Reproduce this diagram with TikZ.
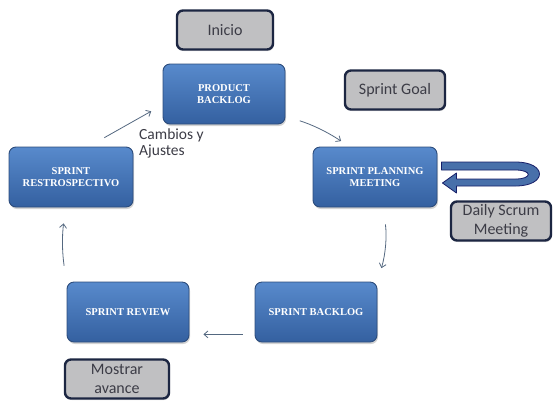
\documentclass[tikz,border=0pt]{standalone}
\usepackage{fontspec}
\setmainfont{Liberation Serif}
\newfontfamily\calibfont{Carlito}
\usetikzlibrary{positioning,calc,shadows,arrows.meta}

\definecolor{bluetop}{RGB}{88,138,204}
\definecolor{bluebot}{RGB}{52,96,160}
\definecolor{blueedge}{RGB}{44,76,124}
\definecolor{notegray}{RGB}{192,192,194}
\definecolor{noteedge}{RGB}{28,38,66}
\definecolor{flowgray}{RGB}{84,104,128}
\definecolor{textgray}{RGB}{60,60,70}

\begin{document}
\begin{tikzpicture}[x=1pt, y=-1pt,
        phase/.style={draw=blueedge, line width=0.9pt, rounded corners=7pt,
            top color=bluetop, bottom color=bluebot,
            minimum width=122pt, minimum height=60pt, align=center,
            text=white, font=\fontsize{10.5}{11.5}\selectfont\bfseries,
            drop shadow={opacity=0.35, shadow xshift=1pt, shadow yshift=-2pt}},
        note/.style={draw=noteedge, line width=2.4pt, fill=notegray, rounded corners=6pt,
            minimum width=100pt, minimum height=39pt, align=center, inner sep=2pt,
            text=textgray, font=\calibfont\fontsize{16}{19}\selectfont,
            drop shadow={opacity=0.25, shadow xshift=1pt, shadow yshift=-1.5pt}},
        flow/.style={->, draw=flowgray, line width=0.8pt},
        >={Straight Barb[length=4pt,width=7pt]}
    ]
    \useasboundingbox (0,0) rectangle (553,400);

    % Scrum cycle
    \node [phase] (pb) at (224,94) {PRODUCT\\BACKLOG};
    \node [phase, minimum width=124pt] (spm) at (375,177) {SPRINT PLANNING\\MEETING};
    \node [phase] (sb) at (316,312) {SPRINT BACKLOG};
    \node [phase] (sr) at (128,312) {SPRINT REVIEW};
    \node [phase, minimum width=124pt] (retro) at (71,177) {SPRINT\\RESTROSPECTIVO};

    % Notes
    \node [note, minimum width=96pt] (inicio) at (225,30) {Inicio};
    \node [note] (goal) at (395,90) {Sprint Goal};
    \node [note, font=\calibfont\fontsize{16}{19}\selectfont] (daily) at (501,221) {Daily Scrum\\Meeting};
    \node [note, font=\calibfont\fontsize{16}{19}\selectfont, minimum width=104pt] (avance) at (117,379) {Mostrar\\avance};
    \node [anchor=north west, align=left, inner sep=0pt, text=textgray,
        font=\calibfont\fontsize{15.5}{16}\selectfont] (cambios) at (139,129) {Cambios y\\Ajustes};

    % Connections
    \draw [flow, shorten <=15pt, shorten >=10pt] (pb.-20) to[bend left=8] (spm.130);
    \draw [flow, shorten <=17pt, shorten >=14pt] (spm.-75) to[bend left=12] (sb.north east);
    \draw [flow, shorten <=12pt, shorten >=14pt] (sb.-160) -- (sr.-20);
    \draw [flow, shorten <=16pt, shorten >=16pt] (sr.north west) to[bend left=8] (retro.-100);
    \draw [flow, shorten <=18pt, shorten >=13pt] (retro.60) -- (pb.190);

    % Daily loop arrow
    \begin{scope}[shift={(spm.east)}]
        \draw [fill=bluebot!90!white, draw=noteedge!80!blue, line width=0.8pt, line join=round]
            (4,-15) -- (78,-15) .. controls (110,-15) and (110,9) .. (78,9)
            -- (19,9) -- (19,16) -- (5,6) -- (19,-4) -- (19,2) -- (78,2)
            .. controls (95,2) and (95,-7) .. (78,-7) -- (4,-7) -- cycle;
    \end{scope}
\end{tikzpicture}
\end{document}
